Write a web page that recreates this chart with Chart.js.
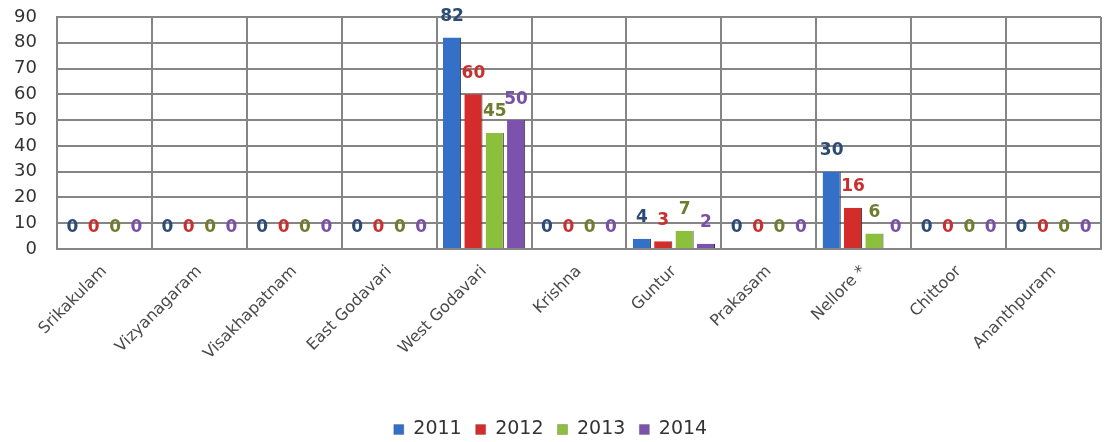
<!DOCTYPE html>
<html>
<head>
<meta charset="utf-8">
<script src="https://cdn.jsdelivr.net/npm/chart.js@4/dist/chart.umd.min.js"></script>
<style>
  html, body { margin: 0; padding: 0; background: #fff; }
  #wrap { width: 1106px; height: 442px; }
</style>
</head>
<body>
<div id="wrap"><canvas id="districts"></canvas></div>
<script>
//-----Data
const districts = ["Srikakulam", "Vizyanagaram", "Visakhapatnam", "East Godavari", "West Godavari",
    "Krishna", "Guntur", "Prakasam", "Nellore *", "Chittoor", "Ananthpuram"]
const years = ["2011", "2012", "2013", "2014"]
const values2011 = [0, 0, 0, 0, 82, 0, 4, 0, 30, 0, 0]
const values2012 = [0, 0, 0, 0, 60, 0, 3, 0, 16, 0, 0]
const values2013 = [0, 0, 0, 0, 45, 0, 7, 0, 6, 0, 0]
const values2014 = [0, 0, 0, 0, 50, 0, 2, 0, 0, 0, 0]

//colores de barras y etiquetas
const barColors = ["#3570c8", "#d42b2b", "#8cc03c", "#7d52ad"]
const labelColors = ["#2c4a78", "#c8302f", "#707c2e", "#7a4fa6"]

const fontFamily = "'DejaVu Sans', Verdana, sans-serif"

//Etiquetas sobre las barras
const valueLabels = {
    id: 'valueLabels',
    afterDatasetsDraw(chart) {
        const ctx = chart.ctx
        ctx.save()
        ctx.font = 'bold 17px ' + fontFamily
        ctx.textAlign = 'center'
        ctx.textBaseline = 'middle'
        chart.data.datasets.forEach((ds, i) => {
            const meta = chart.getDatasetMeta(i)
            meta.data.forEach((bar, j) => {
                ctx.fillStyle = labelColors[i]
                ctx.fillText(ds.data[j], bar.x, bar.y - 21)
            })
        })
        ctx.restore()
    }
}

const all = [values2011, values2012, values2013, values2014]
const data = {
    labels: districts,
    datasets: years.map((y, i) => ({
        label: y,
        data: all[i],
        backgroundColor: barColors[i],
        borderColor: '#333',
        borderWidth: { right: 1 },
        barPercentage: 0.85,
        categoryPercentage: 0.9
    }))
}

const config = {
    type: 'bar',
    data: data,
    plugins: [valueLabels],
    options: {
        responsive: true,
        maintainAspectRatio: false,
        animation: false,
        layout: { padding: { top: 17, right: 5, left: 0, bottom: -7 } },
        plugins: {
            legend: {
                position: 'bottom',
                labels: {
                    color: '#333',
                    font: { family: fontFamily, size: 19 },
                    boxWidth: 10,
                    boxHeight: 10,
                    padding: 14
                }
            },
            tooltip: { enabled: false }
        },
        scales: {
            x: {
                grid: { color: '#858585', lineWidth: 2, offset: true, drawTicks: false },
                border: { color: '#858585', width: 2 },
                ticks: {
                    color: '#4a4a4a',
                    font: { family: fontFamily, size: 16 },
                    maxRotation: 45,
                    minRotation: 45,
                    padding: 13
                },
                afterFit(scale) { scale.height = 157 }
            },
            y: {
                min: 0,
                max: 90,
                grid: { color: '#858585', lineWidth: 2, drawTicks: false },
                border: { color: '#858585', width: 2 },
                ticks: {
                    stepSize: 10,
                    autoSkip: false,
                    color: '#333',
                    font: { family: fontFamily, size: 18 },
                    padding: 20
                },
                afterFit(scale) {
                    scale.width = 57
                    scale.paddingTop = 0
                    scale.paddingBottom = 0
                }
            }
        }
    }
}

const graph = new Chart(document.getElementById('districts'), config)
</script>
</body>
</html>
